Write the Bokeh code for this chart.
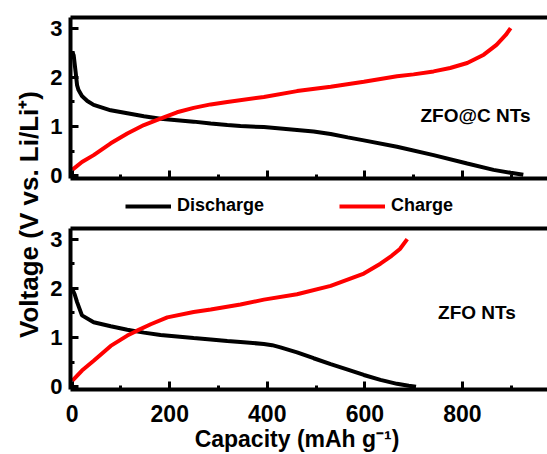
import math
from bokeh.plotting import figure
from bokeh.models import Range1d, FixedTicker, LinearAxis, Label, Legend, LegendItem
from bokeh.layouts import row, column
from bokeh.embed import file_html
from bokeh.resources import INLINE

# ---------------- data ----------------
# ZFO@C NTs (top panel)
zfoc_dis_cap = [0, 3, 7, 10, 13, 20, 31, 44, 79, 113, 147, 181, 215, 249, 284, 318, 345,
                393, 461, 495, 530, 565, 598, 666, 741, 810, 864, 899, 925]
zfoc_dis_v = [2.52, 2.45, 2.11, 1.84, 1.74, 1.62, 1.52, 1.44, 1.33, 1.27, 1.21, 1.16, 1.13, 1.10,
              1.06, 1.03, 1.01, 0.99, 0.93, 0.90, 0.85, 0.78, 0.72, 0.59, 0.42, 0.25, 0.12,
              0.06, 0.02]
zfoc_chg_cap = [0, 20, 44, 79, 113, 147, 181, 215, 249, 284, 318, 393, 461, 530, 598, 666,
                700, 741, 775, 810, 844, 870, 889, 899]
zfoc_chg_v = [0.12, 0.28, 0.42, 0.66, 0.86, 1.03, 1.16, 1.29, 1.38, 1.45, 1.50, 1.60, 1.72,
              1.81, 1.91, 2.02, 2.06, 2.12, 2.19, 2.29, 2.46, 2.66, 2.86, 3.00]

# ZFO NTs (bottom panel)
zfo_dis_cap = [0, 5, 10, 20, 44, 79, 113, 147, 181, 215, 249, 284, 318, 345, 393, 410, 427,
               461, 495, 530, 565, 598, 632, 666, 690, 705]
zfo_dis_v = [1.99, 1.88, 1.72, 1.45, 1.31, 1.23, 1.16, 1.10, 1.05, 1.02, 0.99, 0.96, 0.93, 0.91,
             0.87, 0.845, 0.80, 0.70, 0.58, 0.46, 0.35, 0.24, 0.14, 0.06, 0.02, 0.00]
zfo_chg_cap = [0, 20, 44, 79, 113, 133, 161, 195, 249, 284, 345, 393, 461, 530, 598, 632, 655,
               672, 687]
zfo_chg_v = [0.12, 0.33, 0.53, 0.83, 1.04, 1.14, 1.27, 1.41, 1.52, 1.57, 1.67, 1.77, 1.88, 2.05,
             2.30, 2.50, 2.66, 2.80, 3.00]

x_major = [0, 200, 400, 600, 800]
x_minor = [100, 300, 500, 700, 900]
y_major = [0, 1, 2, 3]
y_minor = [0.5, 1.5, 2.5]

series_names = ["Discharge", "Charge"]
panel_names = ["ZFO@C NTs", "ZFO NTs"]
x_title = "Capacity (mAh g\u207b\u00b9)"
y_title = "Voltage (V vs. Li/Li\u207a)"

# ---------------- style ----------------
FONT = "Liberation Sans"
BLACK = "#000000"
RED = "#ff0000"
LW = 4
XR = (-3.5, 974.6)
YR = (-0.055, 3.215)
PW = 503


def strip(width, height, xr, yr):
    f = figure(width=width, height=height, output_backend="svg", toolbar_location=None,
               x_range=Range1d(*xr), y_range=Range1d(*yr),
               x_axis_location=None, y_axis_location=None,
               min_border_left=0, min_border_right=0, min_border_top=0, min_border_bottom=0)
    f.grid.visible = False
    f.outline_line_color = None
    return f


def style_axes(p, show_x_labels):
    for ax in p.xaxis + p.yaxis:
        ax.axis_line_width = 4
        ax.axis_line_color = BLACK
        ax.major_tick_in = 8
        ax.major_tick_out = 0
        ax.minor_tick_in = 4
        ax.minor_tick_out = 0
        ax.major_tick_line_width = 3
        ax.minor_tick_line_width = 3
        ax.major_label_text_font = FONT
        ax.major_label_text_font_style = "bold"
        ax.major_label_text_color = BLACK
    xa = p.xaxis[0]
    xa.ticker = FixedTicker(ticks=x_major, minor_ticks=x_minor)
    if show_x_labels:
        xa.major_label_text_font_size = "23px"
        xa.major_label_standoff = 15
    else:
        xa.major_label_text_font_size = "1px"
        xa.major_label_text_color = None
        xa.major_label_standoff = 0
    ya = p.yaxis[0]
    ya.ticker = FixedTicker(ticks=y_major, minor_ticks=y_minor)
    ya.major_label_text_font_size = "22px"
    ya.major_label_standoff = 8
    top = LinearAxis(axis_line_width=4, axis_line_color=BLACK,
                     major_tick_in=0, major_tick_out=0, minor_tick_in=0, minor_tick_out=0,
                     major_label_text_font_size="1px", major_label_text_color=None,
                     major_label_standoff=0)
    top.ticker = FixedTicker(ticks=[])
    p.add_layout(top, "above")
    p.grid.visible = False
    p.outline_line_color = None


def panel(height, b_top, b_bottom, dcap, dv, ccap, cv, name, name_xy, show_x_labels):
    p = figure(width=PW, height=height, output_backend="svg", toolbar_location=None,
               x_range=Range1d(*XR), y_range=Range1d(*YR),
               min_border_left=26, min_border_right=0,
               min_border_top=b_top, min_border_bottom=b_bottom)
    style_axes(p, show_x_labels)
    p.line(dcap, dv, line_color=BLACK, line_width=LW)
    p.line(ccap, cv, line_color=RED, line_width=LW)
    p.add_layout(Label(x=name_xy[0], y=name_xy[1], text=name, text_font=FONT,
                       text_font_style="bold", text_font_size="19px", text_color=BLACK,
                       text_align="center", text_baseline="middle"))
    return p


top = panel(190, 17, 12, zfoc_dis_cap, zfoc_dis_v, zfoc_chg_cap, zfoc_chg_v,
            panel_names[0], (827, 1.23), False)
bottom = panel(203, 6, 36, zfo_dis_cap, zfo_dis_v, zfo_chg_cap, zfo_chg_v,
               panel_names[1], (830, 1.51), True)

# legend strip between the panels (series drawn outside its view, used only for legend keys)
leg = strip(PW, 32, (5000, 6000), YR)
rd = leg.line(zfoc_dis_cap, zfoc_dis_v, line_color=BLACK, line_width=LW)
rc = leg.line(zfoc_chg_cap, zfoc_chg_v, line_color=RED, line_width=LW)
legend = Legend(items=[LegendItem(label=series_names[0], renderers=[rd]),
                       LegendItem(label=series_names[1], renderers=[rc])],
                orientation="horizontal", location=(55, 6),
                glyph_width=46, glyph_height=20, label_height=20, label_standoff=6,
                spacing=75, padding=0, margin=0,
                border_line_color=None, background_fill_alpha=0,
                label_text_font=FONT, label_text_font_style="bold",
                label_text_font_size="18px", label_text_color=BLACK)
leg.add_layout(legend)

# x-axis title strip (its frame is aligned with the panels' frames)
xt = strip(PW, 29, XR, (0, 29))
xt.add_layout(Label(x=461, y=16, text=x_title, text_font=FONT, text_font_style="bold",
                    text_font_size="23px", text_color=BLACK, text_align="center",
                    text_baseline="middle"))

# y-axis title strip spanning both panels
yt = strip(44, 454, (0, 44), (0, 454))
yt.add_layout(Label(x=28, y=240, text=y_title, angle=math.pi / 2, text_font=FONT,
                    text_font_style="bold", text_font_size="26px", text_color=BLACK,
                    text_align="center", text_baseline="middle"))

layout = row(yt, column(top, leg, bottom, xt))

open("out.html", "w").write(file_html(layout, INLINE))
